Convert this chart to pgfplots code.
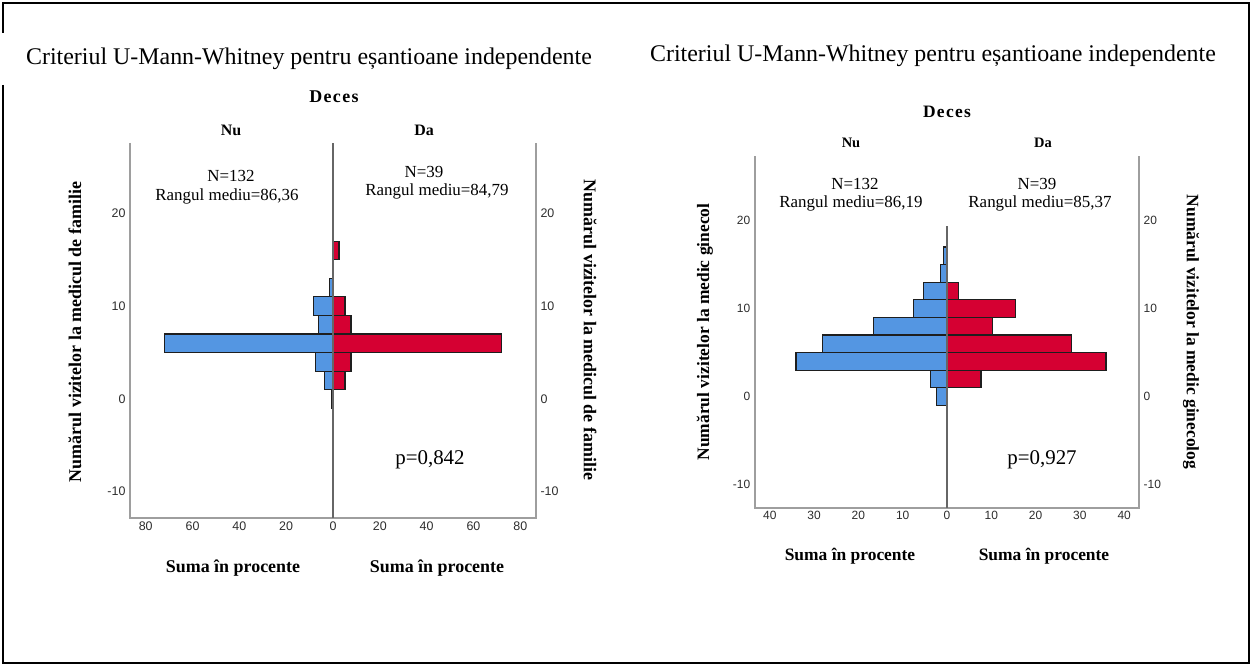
\documentclass[border=0pt]{standalone}
\usepackage{pgfplots}
\pgfplotsset{compat=1.18}
\usepackage{pgfplotstable}
\usepackage{fontspec}
\setmainfont{Liberation Serif}
\setsansfont{Liberation Sans}
\definecolor{spssblue}{RGB}{84,150,226}
\definecolor{spssred}{RGB}{213,0,50}
\definecolor{framegray}{RGB}{158,158,158}
\definecolor{ticktext}{RGB}{45,45,45}
\definecolor{edge}{RGB}{30,30,30}
\newcommand{\fs}[1]{\fontsize{#1}{#1}\selectfont}
\newcommand{\deces}{D\kern1.3bp e\kern1.3bp c\kern1.3bp e\kern1.3bp s}

% Left panel: visits to family doctor (percent of group)
\pgfplotstableread{
y pct
0 -0.76
2 -3.79
4 -7.58
6 -71.97
8 -6.06
10 -8.33
12 -1.52
}\famNu
\pgfplotstableread{
y pct
2 5.13
4 7.69
6 71.79
8 7.69
10 5.13
16 2.56
}\famDa
% Right panel: visits to gynecologist
\pgfplotstableread{
y pct
0 -2.27
2 -3.79
4 -34.09
6 -28.03
8 -16.67
10 -7.58
12 -5.30
14 -1.52
16 -0.76
}\ginNu
\pgfplotstableread{
y pct
2 7.69
4 35.90
6 28.21
8 10.26
10 15.38
12 2.56
}\ginDa

\pgfplotsset{
  pyr/.style={
    scale only axis, anchor=south west,
    axis line style={draw=none}, tick style={draw=none},
    ytick={-10,0,10,20}, yticklabels={-10,0,10,20},
    clip=false,
  },
  barNu/.style={xbar, bar width=2, bar shift=0pt, fill=spssblue, draw=edge, line width=1.1bp},
  barDa/.style={xbar, bar width=2, bar shift=0pt, fill=spssred, draw=edge, line width=1.1bp},
}

\begin{document}
\begin{tikzpicture}[x=1bp,y=1bp]
\useasboundingbox (0,0) rectangle (1252,666);
% outer frame
\draw[black, line width=1.6bp] (3,581) -- (3,3) -- (1249,3) -- (1249,663) -- (3,663) -- (3,633);

% ---------- LEFT PANEL ----------
\begin{axis}[pyr, at={(130bp,148bp)}, width=406bp, height=375bp,
  xmin=-86.7, xmax=86.7, ymin=-12.85, ymax=27.6,
  xtick={-80,-60,...,80}, xticklabels={80,60,40,20,0,20,40,60,80},
  ticklabel style={font=\sffamily\fs{12.5}, text=ticktext},
  yticklabel style={xshift=-1bp},
]
\addplot[barNu] table[x=pct,y=y] {\famNu};
\addplot[barDa] table[x=pct,y=y] {\famDa};
\draw[framegray, line width=2bp] (rel axis cs:0,1) -- (rel axis cs:0,0) -- (rel axis cs:1,0) -- (rel axis cs:1,1);
\draw[black!60, line width=1.6bp] (axis cs:0,-12.85) -- (axis cs:0,27.6);
\end{axis}
\begin{axis}[pyr, at={(130bp,148bp)}, width=406bp, height=375bp,
  xmin=-86.7, xmax=86.7, ymin=-12.85, ymax=27.6,
  hide x axis, axis y line*=right,
  yticklabel style={font=\sffamily\fs{12.5}, text=ticktext, xshift=1bp},
]
\end{axis}

% ---------- RIGHT PANEL ----------
\begin{axis}[pyr, at={(754.7bp,158bp)}, width=384.5bp, height=351.6bp,
  xmin=-43.4, xmax=43.4, ymin=-12.65, ymax=27.3,
  xtick={-40,-30,...,40}, xticklabels={40,30,20,10,0,10,20,30,40},
  ticklabel style={font=\sffamily\fs{12}, text=ticktext},
  yticklabel style={xshift=-1bp},
]
\addplot[barNu] table[x=pct,y=y] {\ginNu};
\addplot[barDa] table[x=pct,y=y] {\ginDa};
\draw[framegray, line width=2bp] (rel axis cs:0,1) -- (rel axis cs:0,0) -- (rel axis cs:1,0) -- (rel axis cs:1,1);
\draw[black!60, line width=1.6bp] (axis cs:0,-12.65) -- (axis cs:0,19.4);
\end{axis}
\begin{axis}[pyr, at={(754.7bp,158bp)}, width=384.5bp, height=351.6bp,
  xmin=-43.4, xmax=43.4, ymin=-12.65, ymax=27.3,
  hide x axis, axis y line*=right,
  yticklabel style={font=\sffamily\fs{12}, text=ticktext, xshift=1bp},
]
\end{axis}

% ---------- TEXT ----------
\node[font=\fs{24}] at (309,607) {Criteriul U-Mann-Whitney pentru eșantioane independente};
\node[font=\fs{24}] at (933,610) {Criteriul U-Mann-Whitney pentru eșantioane independente};

\node[font=\bfseries\fs{18}] at (334,569) {\deces};
\node[font=\bfseries\fs{16}] at (231,536) {Nu};
\node[font=\bfseries\fs{16}] at (424,536) {Da};
\node[font=\fs{17}] at (231,490) {N=132};
\node[font=\fs{17}] at (227,470) {Rangul mediu=86,36};
\node[font=\fs{17}] at (424,494) {N=39};
\node[font=\fs{17}] at (437,475) {Rangul mediu=84,79};
\node[font=\fs{21}] at (430,206) {p=0,842};
\node[font=\bfseries\fs{18}, rotate=90] at (75,334) {Numărul vizitelor la medicul de familie};
\node[font=\bfseries\fs{18}, rotate=-90] at (590,336) {Numărul vizitelor la medicul de familie};
\node[font=\bfseries\fs{18}] at (233,98) {Suma în procente};
\node[font=\bfseries\fs{18}] at (437,98) {Suma în procente};

\node[font=\bfseries\fs{17.5}] at (947,554) {\deces};
\node[font=\bfseries\fs{14.5}] at (851,523) {Nu};
\node[font=\bfseries\fs{14.5}] at (1043,523) {Da};
\node[font=\fs{17}] at (855,482) {N=132};
\node[font=\fs{17}] at (851,463) {Rangul mediu=86,19};
\node[font=\fs{17}] at (1037,482) {N=39};
\node[font=\fs{17}] at (1040,463) {Rangul mediu=85,37};
\node[font=\fs{21}] at (1042,206) {p=0,927};
\node[font=\bfseries\fs{17.5}, rotate=90] at (705,334) {Numărul vizitelor la medic ginecol};
\node[font=\bfseries\fs{17.5}, rotate=-90] at (1191,334) {Numărul vizitelor la medic ginecolog};
\node[font=\bfseries\fs{17.5}] at (850,110) {Suma în procente};
\node[font=\bfseries\fs{17.5}] at (1044,110) {Suma în procente};
\end{tikzpicture}
\end{document}
